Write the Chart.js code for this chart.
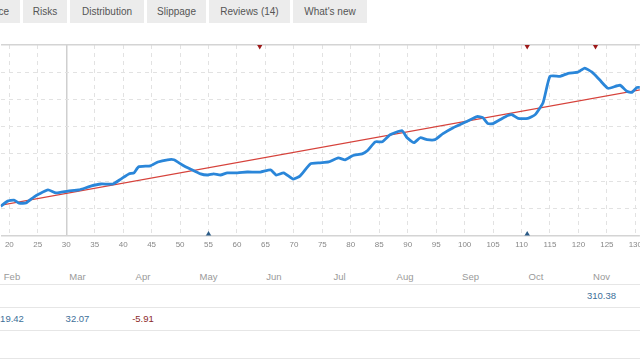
<!DOCTYPE html>
<html>
<head>
<meta charset="utf-8">
<script src="https://cdn.jsdelivr.net/npm/chart.js@4"></script>
<style>
  html, body { margin: 0; padding: 0; background: #fff; }
  body { width: 640px; height: 360px; position: relative; overflow: hidden; font-family: "Liberation Sans", Arial, sans-serif; }
  .tab { position: absolute; top: 0; height: 23px; line-height: 23px; background: #ececec; color: #555; font-size: 10px; text-align: center; }
  #wrap { position: absolute; left: 0; top: 40px; width: 647px; height: 215px; }
  .row { position: absolute; left: 0; width: 640px; border-bottom: 1px solid #e6e6e6; }
  .cell { position: absolute; width: 66px; text-align: center; font-size: 9.5px; }
  .month { color: #999; }
  .pos { color: #3d6f99; }
  .neg { color: #8c2b2b; }
</style>
</head>
<body>
<div class="tab" style="left:-60px;width:80px"><span style="position:absolute;right:11px;top:0">Performance</span></div>
<div class="tab" style="left:23px;width:44px">Risks</div>
<div class="tab" style="left:70px;width:74px">Distribution</div>
<div class="tab" style="left:147px;width:59px">Slippage</div>
<div class="tab" style="left:209px;width:81px">Reviews (14)</div>
<div class="tab" style="left:293px;width:74px">What's new</div>

<div id="wrap"><canvas id="balanceChart"></canvas></div>

<div id="table"></div>

<script>
// balance curve (x = trade number)
const tradeNo = [18.5, 19.7, 20.8, 21.7, 22.9, 24.3, 25.2, 26.8, 28.2, 30.3, 32.2, 34.3, 36.1, 38.2, 39.6, 41.0, 41.9, 42.7, 44.8, 46.1,
    47.8, 48.9, 50.4, 51.8, 53.6, 54.8, 55.9, 57.1, 58.3, 60.1, 61.8, 64.1, 65.9, 66.9, 68.2, 69.9, 71.1, 72.9, 74.6, 76.1,
    77.8, 79.0, 80.3, 82.0, 82.9, 84.3, 85.5, 86.9, 89.0, 89.9, 91.1, 92.2, 93.4, 94.8, 96.2, 98.0, 100.4, 102.2, 103.2, 104.1,
    105.0, 106.6, 107.6, 108.3, 109.4, 111.1, 112.4, 113.8, 115.0, 116.8, 118.2, 119.9, 121.1, 122.4, 123.8, 125.2, 127.3, 128.5, 129.4, 130.3, 130.8];
const balance = [107, 126, 130, 119, 119, 141, 152, 167, 156, 163, 167, 181, 189, 189, 207, 226, 230, 252, 256, 270,
    278, 278, 259, 244, 226, 222, 226, 222, 230, 230, 233, 233, 241, 222, 230, 207, 219, 263, 267, 270,
    285, 278, 293, 300, 311, 344, 344, 370, 385, 359, 341, 359, 352, 352, 374, 396, 419, 437, 433, 411,
    411, 430, 441, 444, 430, 430, 444, 489, 585, 585, 596, 600, 615, 600, 570, 541, 552, 530, 526, 544, 544];

// linear trend
const trendX = [18, 131];
const trendY = [109, 536];

// deal markers
const sellMarks = [64, 111, 123];
const buyMarks = [55, 111];

// monthly table
const months = ['Feb', 'Mar', 'Apr', 'May', 'Jun', 'Jul', 'Aug', 'Sep', 'Oct', 'Nov'];
const rowOne = ['', '', '', '', '', '', '', '', '', '310.38'];
const rowTwo = ['19.42', '32.07', '-5.91', '', '', '', '', '', '', ''];

const xMin = 18.5, xMax = 130.8;
const yMin = 0, yMax = 700;

function pts(xs, ys) {
    return xs.map((x, i) => ({ x: x, y: ys[i] }));
}

const ctx = document.querySelector('#balanceChart').getContext('2d');
new Chart(ctx, {
    type: 'scatter',
    data: {
        datasets: [{
            type: 'line',
            data: pts(trendX, trendY),
            borderColor: '#d6423b',
            borderWidth: 1.3,
            pointRadius: 0,
            order: 2
        }, {
            type: 'line',
            data: pts(tradeNo, balance),
            borderColor: '#2a86d9',
            borderWidth: 2.8,
            pointRadius: 0,
            tension: 0.15,
            order: 1
        }, {
            data: sellMarks.map(x => ({ x: x, y: yMax })),
            pointStyle: 'triangle',
            rotation: 180,
            radius: 4.5,
            backgroundColor: '#9e1a1a',
            borderWidth: 0,
            order: 0
        }, {
            data: buyMarks.map(x => ({ x: x, y: yMin })),
            pointStyle: 'triangle',
            radius: 4.5,
            backgroundColor: '#2b5b87',
            borderWidth: 0,
            order: 0
        }]
    },
    options: {
        responsive: true,
        maintainAspectRatio: false,
        animation: false,
        layout: { autoPadding: false, padding: { top: 5, left: 0, right: 0, bottom: 0 } },
        plugins: { legend: { display: false }, tooltip: { enabled: false } },
        scales: {
            x: {
                type: 'linear',
                min: xMin,
                max: xMax,
                ticks: { stepSize: 5, includeBounds: false, color: '#888', font: { size: 8, family: 'Liberation Sans' }, padding: 5, maxRotation: 0 },
                grid: {
                    drawTicks: false,
                    color: c => c.tick && c.tick.value === 30 ? '#cfcfcf' : '#e2e2e2',
                    lineWidth: c => c.tick && c.tick.value === 30 ? 1.5 : 1
                },
                border: { display: false, dash: c => c.tick && c.tick.value === 30 ? [] : [4, 4] }
            },
            y: {
                min: yMin,
                max: yMax,
                ticks: { stepSize: 100, display: false },
                grid: {
                    drawTicks: false,
                    color: c => (c.tick && (c.tick.value === yMin || c.tick.value === yMax)) ? '#d4d4d4' : '#e2e2e2',
                    lineWidth: c => (c.tick && (c.tick.value === yMin || c.tick.value === yMax)) ? 1.5 : 1
                },
                border: { display: false, dash: c => (c.tick && (c.tick.value === yMin || c.tick.value === yMax)) ? [] : [4, 4] }
            }
        }
    }
});

// table below the chart
const table = document.querySelector('#table');
function addRow(top, height, values, cls) {
    const row = document.createElement('div');
    row.className = 'row';
    row.style.top = top + 'px';
    row.style.height = height + 'px';
    values.forEach((v, i) => {
        const cell = document.createElement('div');
        cell.className = 'cell ' + (cls || (v.startsWith('-') ? 'neg' : 'pos'));
        cell.style.left = (i * 65.5 - 21) + 'px';
        cell.style.lineHeight = height + 'px';
        cell.textContent = v;
        row.appendChild(cell);
    });
    table.appendChild(row);
}
addRow(270, 14, months, 'month');
addRow(285, 22, rowOne);
addRow(308, 22, rowTwo);
addRow(331, 27, []);
</script>
</body>
</html>
